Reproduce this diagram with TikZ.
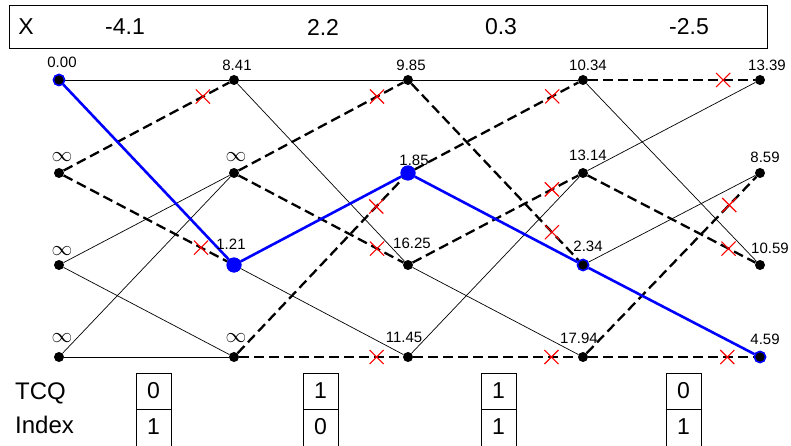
\documentclass[tikz,border=0pt]{standalone}
\usepackage{fontspec}
\setmainfont{Liberation Sans}
\usetikzlibrary{shapes.misc}
\begin{document}
\begin{tikzpicture}[x=1pt,y=-1pt,
  dot/.style={circle,fill=black,inner sep=0pt,minimum size=10pt},
  bigdot/.style={circle,fill=blue,inner sep=0pt,minimum size=15pt},
  ringdot/.style={circle,fill=black,draw=blue,line width=1.5pt,inner sep=0pt,minimum size=11pt},
  solidedge/.style={line width=0.7pt,black},
  dashedge/.style={line width=2.3pt,black,dash pattern=on 10pt off 5pt},
  bestedge/.style={line width=2.6pt,blue},
  xmark/.style={cross out,solid,draw=red,line width=1.1pt,inner sep=0pt,minimum size=13pt,pos=0.84},
  metric/.style={font=\fontsize{15}{15}\selectfont,inner sep=0pt},
  inflab/.style={font=\fontsize{22}{22}\selectfont,inner sep=0pt},
  bigtxt/.style={font=\fontsize{23}{23}\selectfont,inner sep=0pt},
  cell/.style={draw=black,line width=0.8pt,minimum width=35pt,minimum height=36pt,inner sep=0pt,font=\fontsize{23}{23}\selectfont}
]
\useasboundingbox (0,0) rectangle (791,446);
\fill[white] (0,0) rectangle (791,446);

% top box
\node[draw=black,line width=0.8pt,minimum width=758pt,minimum height=43pt,inner sep=0pt] (xbox) at (388,26.5) {};
\node[bigtxt] (xl) at (26,27) {X};
\node[bigtxt] (x1) at (125,27) {-4.1};
\node[bigtxt] (x2) at (323,27) {2.2};
\node[bigtxt] (x3) at (501,27) {0.3};
\node[bigtxt] (x4) at (689,27) {-2.5};

% trellis nodes
\node[ringdot] (n00) at (59,80) {};
\node[dot] (n01) at (59,173) {};
\node[dot] (n02) at (59,265) {};
\node[dot] (n03) at (59,357) {};
\node[dot] (n10) at (234,80) {};
\node[dot] (n11) at (234,173) {};
\node[bigdot] (n12) at (234,265) {};
\node[dot] (n13) at (234,357) {};
\node[dot] (n20) at (408,80) {};
\node[bigdot] (n21) at (408,173) {};
\node[dot] (n22) at (408,265) {};
\node[dot] (n23) at (408,357) {};
\node[dot] (n30) at (583,80) {};
\node[dot] (n31) at (583,173) {};
\node[ringdot] (n32) at (583,265) {};
\node[dot] (n33) at (583,357) {};
\node[dot] (n40) at (760,80) {};
\node[dot] (n41) at (760,173) {};
\node[dot] (n42) at (760,265) {};
\node[ringdot] (n43) at (760,357) {};

% stage 0
\draw[solidedge] (n00) -- (n10);
\draw[dashedge] (n01) -- (n10) node[xmark] (m1) {};
\draw[dashedge] (n01) -- (n12) node[xmark] (m2) {};
\draw[solidedge] (n02) -- (n11);
\draw[solidedge] (n02) -- (n13);
\draw[solidedge] (n03) -- (n11);
\draw[solidedge] (n03) -- (n13);
% stage 1
\draw[solidedge] (n10) -- (n20);
\draw[solidedge] (n10) -- (n22);
\draw[dashedge] (n11) -- (n20) node[xmark] (m3) {};
\draw[dashedge] (n11) -- (n22) node[xmark] (m4) {};
\draw[solidedge] (n12) -- (n23);
\draw[dashedge] (n13) -- (n21) node[xmark] (m5) {};
\draw[dashedge] (n13) -- (n23) node[xmark] (m6) {};
% stage 2
\draw[solidedge] (n20) -- (n30);
\draw[dashedge] (n20) -- (n32) node[xmark] (m7) {};
\draw[dashedge] (n21) -- (n30) node[xmark] (m8) {};
\draw[dashedge] (n22) -- (n31) node[xmark] (m9) {};
\draw[solidedge] (n22) -- (n33);
\draw[solidedge] (n23) -- (n31);
\draw[dashedge] (n23) -- (n33) node[xmark] (m10) {};
% stage 3
\draw[dashedge] (n30) -- (n40) node[xmark,pos=0.81] (m11) {};
\draw[solidedge] (n30) -- (n42);
\draw[solidedge] (n31) -- (n40);
\draw[dashedge] (n31) -- (n42) node[xmark] (m12) {};
\draw[solidedge] (n32) -- (n41);
\draw[dashedge] (n33) -- (n41) node[xmark] (m13) {};
\draw[dashedge] (n33) -- (n43) node[xmark] (m14) {};
% best path
\draw[bestedge] (n00) -- (n12);
\draw[bestedge] (n12) -- (n21);
\draw[bestedge] (n21) -- (n32);
\draw[bestedge] (n32) -- (n43);

% redraw nodes on top
\node[ringdot] at (n00) {};
\node[bigdot] at (n12) {};
\node[bigdot] at (n21) {};
\node[ringdot] at (n32) {};
\node[ringdot] at (n43) {};

% metric labels
\node[metric] (l00) at (62,62) {0.00};
\node[inflab] (l01) at (62,157) {$\infty$};
\node[inflab] (l02) at (62,251) {$\infty$};
\node[inflab] (l03) at (62,338) {$\infty$};
\node[metric] (l10) at (237,65) {8.41};
\node[inflab] (l11) at (236,157) {$\infty$};
\node[metric] (l12) at (231,244) {1.21};
\node[inflab] (l13) at (236,338) {$\infty$};
\node[metric] (l20) at (411,65) {9.85};
\node[metric] (l21) at (414,160) {1.85};
\node[metric] (l22) at (412,243) {16.25};
\node[metric] (l23) at (404,337) {11.45};
\node[metric] (l30) at (588,65) {10.34};
\node[metric] (l31) at (588,155) {13.14};
\node[metric] (l32) at (588,246) {2.34};
\node[metric] (l33) at (579,338) {17.94};
\node[metric] (l40) at (767,65) {13.39};
\node[metric] (l41) at (765,157) {8.59};
\node[metric] (l42) at (770,248) {10.59};
\node[metric] (l43) at (765,339) {4.59};

% TCQ index
\node[bigtxt,anchor=west,font=\fontsize{24}{24}\selectfont] (tcq) at (15,393) {TCQ};
\node[bigtxt,anchor=west,font=\fontsize{24}{24}\selectfont] (idx) at (15,425) {Index};
\node[cell] (a1) at (153.5,391) {0};
\node[cell,minimum height=44pt] (b1) at (153.5,431) {};
\node[bigtxt] (d1) at (153.5,427) {1};
\node[cell] (a2) at (320.5,391) {1};
\node[cell,minimum height=44pt] (b2) at (320.5,431) {};
\node[bigtxt] (d2) at (320.5,427) {0};
\node[cell] (a3) at (498.5,391) {1};
\node[cell,minimum height=44pt] (b3) at (498.5,431) {};
\node[bigtxt] (d3) at (498.5,427) {1};
\node[cell] (a4) at (683.5,391) {0};
\node[cell,minimum height=44pt] (b4) at (683.5,431) {};
\node[bigtxt] (d4) at (683.5,427) {1};
\end{tikzpicture}
\end{document}
